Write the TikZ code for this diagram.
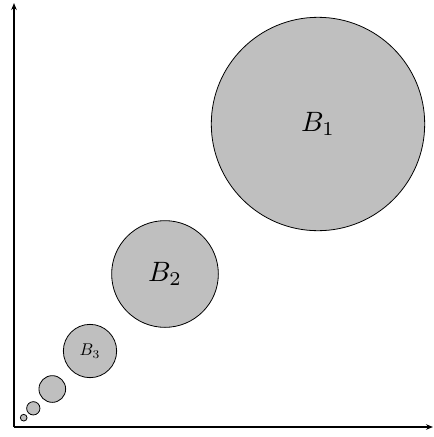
\documentclass[tikz,border=0pt]{standalone}
\usetikzlibrary{arrows.meta}
\begin{document}
\begin{tikzpicture}[x=1pt,y=-1pt,
  ball/.style={circle,draw=black,fill=black!25,line width=0.8pt,inner sep=0pt,minimum size=#1}]
\tikzset{axis/.style={line width=1.1pt,-{Stealth[length=7pt,width=5.5pt]}}}
\useasboundingbox (0,0) rectangle (434,437);
\coordinate (o) at (14,427);
\coordinate (ytip) at (14,3);
\coordinate (xtip) at (433,427);
\draw[axis] (o) -- (ytip);
\draw[axis] (o) -- (xtip);
\node[ball=213.4pt] (b1) at (318,124) {\scalebox{2.8}{$B_1$}};
\node[ball=106.7pt] (b2) at (165,274) {\scalebox{2.8}{$B_2$}};
\node[ball=53.3pt] (b3) at (90,351) {\scalebox{1.7}{$B_3$}};
\node[ball=26.7pt] (b4) at (52.3,389) {};
\node[ball=13.3pt] (b5) at (33.3,408.3) {};
\node[ball=6.7pt] (b6) at (23.7,417.7) {};
\end{tikzpicture}
\end{document}
